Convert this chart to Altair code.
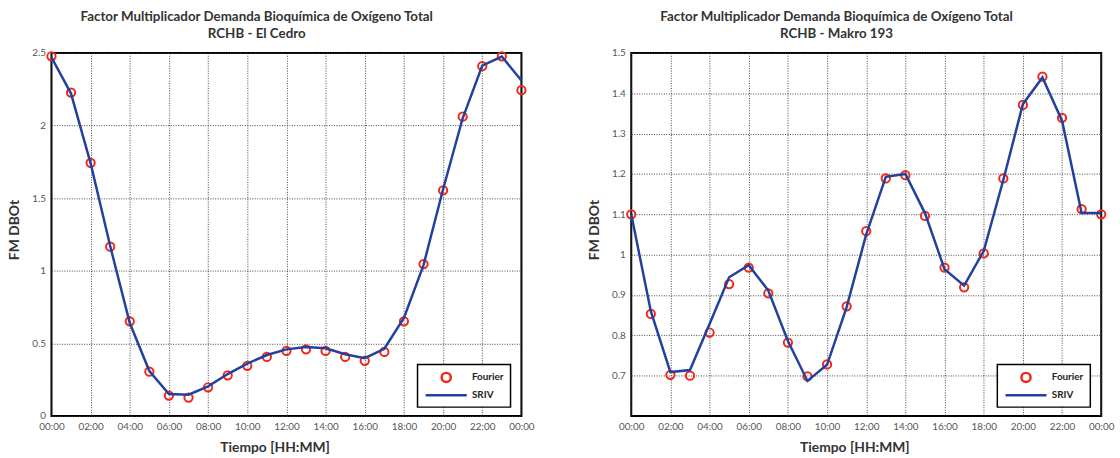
import altair as alt
import pandas as pd

# Hourly multiplier factors (0..24 h)
hours = list(range(25))

cedro_fourier = [2.477, 2.227, 1.743, 1.166, 0.652, 0.305, 0.141, 0.127, 0.198, 0.280,
                 0.346, 0.407, 0.448, 0.459, 0.448, 0.407, 0.380, 0.441, 0.652, 1.046,
                 1.554, 2.061, 2.409, 2.477, 2.243]
cedro_sriv = [2.47, 2.22, 1.74, 1.17, 0.64, 0.31, 0.152, 0.147, 0.204, 0.289,
              0.361, 0.420, 0.459, 0.475, 0.466, 0.425, 0.398, 0.463, 0.675, 1.039,
              1.561, 2.050, 2.413, 2.475, 2.31]

makro_fourier = [1.100, 0.853, 0.702, 0.700, 0.807, 0.927, 0.968, 0.904, 0.782, 0.698,
                 0.728, 0.872, 1.058, 1.189, 1.197, 1.096, 0.968, 0.919, 1.003, 1.189,
                 1.371, 1.441, 1.339, 1.113, 1.100]
makro_sriv = [1.100, 0.860, 0.709, 0.714, 0.828, 0.944, 0.974, 0.911, 0.786, 0.687,
              0.727, 0.870, 1.050, 1.193, 1.200, 1.103, 0.964, 0.923, 1.009, 1.185,
              1.373, 1.439, 1.332, 1.103, 1.103]

series_names = ["Fourier", "SRIV"]
series_colors = ["#f4261a", "#23419c"]
# legend glyphs: open circle for the points, long horizontal stroke for the line
series_shapes = ["circle", "M-4.5,0H4.5"]

x_ticks = list(range(0, 25, 2))
main_title = "Factor Multiplicador Demanda Bioquímica de Oxígeno Total"
FONT = "Lato"
W, H = 475, 367


def legend():
    return alt.Legend(
        title=None, orient="none", legendX=370, legendY=315,
        strokeColor="black", fillColor="white",
        padding=7, rowPadding=2, symbolOffset=16, labelOffset=20, labelAlign="left",
        labelFont=FONT, labelFontSize=10, labelFontWeight="bold", labelColor="#222",
        symbolStrokeWidth=2.5, symbolSize=85,
    )


def panel(subtitle, fourier, sriv, y_domain, y_ticks):
    df_f = pd.DataFrame({"hora": hours, "fm": fourier, "serie": "Fourier"})
    df_s = pd.DataFrame({"hora": hours, "fm": sriv, "serie": "SRIV"})

    x = alt.X(
        "hora:Q",
        scale=alt.Scale(domain=[0, 24], nice=False, zero=False),
        axis=alt.Axis(
            values=x_ticks,
            labelExpr="(datum.value % 24 < 10 ? '0' : '') + (datum.value % 24) + ':00'",
            title="Tiempo [HH:MM]", titleX=W / 2 - 12,
        ),
    )
    y = alt.Y(
        "fm:Q",
        scale=alt.Scale(domain=y_domain, nice=False, zero=False),
        axis=alt.Axis(values=y_ticks, format="~g", title="FM DBOt", titleY=H / 2 - 5),
    )
    color = alt.Color("serie:N", scale=alt.Scale(domain=series_names, range=series_colors), legend=legend())
    shape = alt.Shape("serie:N", scale=alt.Scale(domain=series_names, range=series_shapes), legend=legend())

    points = alt.Chart(df_f).mark_point(filled=False, strokeWidth=2, opacity=1, size=70).encode(
        x=x, y=y, color=color, shape=shape
    )
    line = alt.Chart(df_s).mark_line(strokeWidth=2.5).encode(x=x, y=y, color=color)

    return alt.layer(points, line).properties(
        width=W, height=H,
        title=alt.TitleParams(text=[main_title, subtitle], dx=-30),
    )


left = panel("RCHB - El Cedro", cedro_fourier, cedro_sriv, [0, 2.5], [0, 0.5, 1, 1.5, 2, 2.5])
right = panel("RCHB - Makro 193", makro_fourier, makro_sriv, [0.6, 1.5],
              [0.7, 0.8, 0.9, 1.0, 1.1, 1.2, 1.3, 1.4, 1.5])

chart = (
    alt.hconcat(left, right, spacing=52)
    .resolve_scale(color="independent", shape="independent")
    .resolve_legend(color="independent", shape="independent")
    .properties(padding={"left": 7, "top": 6, "right": 5, "bottom": 5}, background="white")
    .configure_view(stroke="black", strokeWidth=2)
    .configure_axis(
        domain=False, ticks=False, labelPadding=6, labelFlush=False,
        grid=True, gridColor="#444", gridDash=[1, 1.5], gridWidth=1, gridOpacity=1,
        labelFont=FONT, labelFontSize=10, labelColor="#555",
        titleFont=FONT, titleFontSize=14, titleFontWeight="bold", titleColor="#333",
    )
    .configure_axisY(titlePadding=10)
    .configure_axisX(titlePadding=9)
    .configure_legend(strokeWidth=1.5)
    .configure_title(font=FONT, fontSize=13.5, fontWeight="bold", color="#333",
                     anchor="middle", offset=8, lineHeight=17)
)

chart.save("out.html", embed_options={"renderer": "svg", "actions": False})
